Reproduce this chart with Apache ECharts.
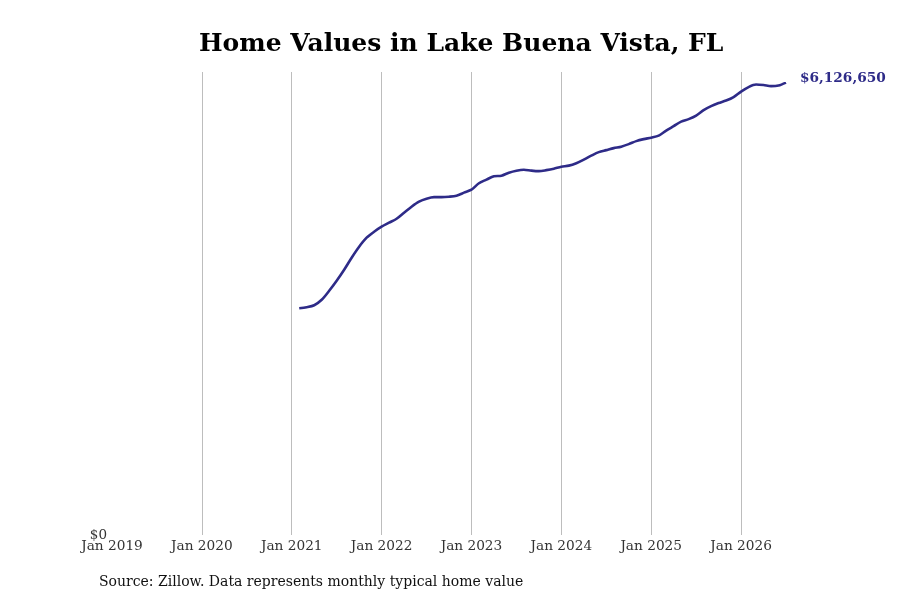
<!DOCTYPE html>
<html>
<head>
<meta charset="utf-8">
<title>Home Values in Lake Buena Vista, FL</title>
<script src="https://cdn.jsdelivr.net/npm/echarts@6/dist/echarts.min.js"></script>
<style>
  html, body { margin: 0; padding: 0; background: #fff; }
  #chart { width: 900px; height: 600px; }
</style>
</head>
<body>
<div id="chart"></div>
<script>
// x values are months counted from Jan 2019
var firstMonth = 25; // Feb 2021
var homeValues = [
  3070000, 3084000, 3111000, 3185000, 3307000, 3443000, 3592000, 3755000, 3904000, 4026000, 4107000,
  4175000, 4229000, 4283000, 4365000, 4446000, 4514000, 4554000, 4575000, 4575000, 4581000, 4595000, 4636000,
  4676000, 4764000, 4812000, 4859000, 4866000, 4907000, 4934000, 4947000, 4934000, 4927000, 4941000, 4961000,
  4988000, 5002000, 5035000, 5083000, 5137000, 5185000, 5212000, 5239000, 5259000, 5293000, 5334000, 5361000,
  5381000, 5408000, 5476000, 5537000, 5598000, 5632000, 5679000, 5754000, 5808000, 5849000, 5883000, 5930000,
  6005000, 6066000, 6100000, 6093000, 6079000, 6087000, 6126650
];
var yearLabels = ['Jan 2019', 'Jan 2020', 'Jan 2021', 'Jan 2022', 'Jan 2023', 'Jan 2024', 'Jan 2025', 'Jan 2026'];

var points = homeValues.map(function (v, i) { return [firstMonth + i, v]; });
var lastMonth = firstMonth + homeValues.length - 1;

var myChart = echarts.init(document.getElementById('chart'));
var option = {
  animation: false,
  title: {
    text: 'Home Values in Lake Buena Vista, FL',
    left: 194,
    top: 27,
    textStyle: { fontFamily: 'DejaVu Serif', fontWeight: 'bold', fontSize: 25, color: '#000' }
  },
  graphic: [{
    type: 'text',
    left: 99,
    top: 575,
    style: {
      text: 'Source: Zillow. Data represents monthly typical home value',
      font: '14px "DejaVu Serif"',
      fill: '#111'
    }
  }],
  grid: { left: 112, right: 900 - 786, top: 72, bottom: 600 - 535 },
  xAxis: {
    type: 'value',
    min: 0,
    max: lastMonth,
    interval: 12,
    axisLine: { show: false },
    axisTick: { show: false },
    axisLabel: {
      margin: 4,
      fontFamily: 'DejaVu Serif',
      fontSize: 13.7,
      color: '#333',
      showMaxLabel: false,
      formatter: function (v) { return yearLabels[v / 12] || ''; }
    },
    splitLine: { show: true, showMinLine: false, showMaxLine: false, lineStyle: { color: '#bdbdbd', width: 1 } }
  },
  yAxis: {
    type: 'value',
    min: 0,
    max: 6270000,
    axisLine: { show: false },
    axisTick: { show: false },
    splitLine: { show: false },
    axisLabel: {
      margin: 5,
      fontFamily: 'DejaVu Serif',
      fontSize: 13.5,
      color: '#333',
      verticalAlign: 'middle',
      lineHeight: 13,
      padding: [7, 0, 0, 0],
      formatter: function (v) { return v === 0 ? '$0' : ''; }
    }
  },
  series: [{
    type: 'line',
    data: points,
    smooth: 0.3,
    showSymbol: false,
    lineStyle: { color: '#2e2b88', width: 2.6 },
    endLabel: {
      show: true,
      distance: 14,
      offset: [0, -4],
      fontFamily: 'DejaVu Serif',
      fontWeight: 'bold',
      fontSize: 13.7,
      color: '#2e2b88',
      formatter: function (p) { return '$' + p.value[1].toLocaleString('en-US'); }
    }
  }]
};
myChart.setOption(option);
</script>
</body>
</html>
